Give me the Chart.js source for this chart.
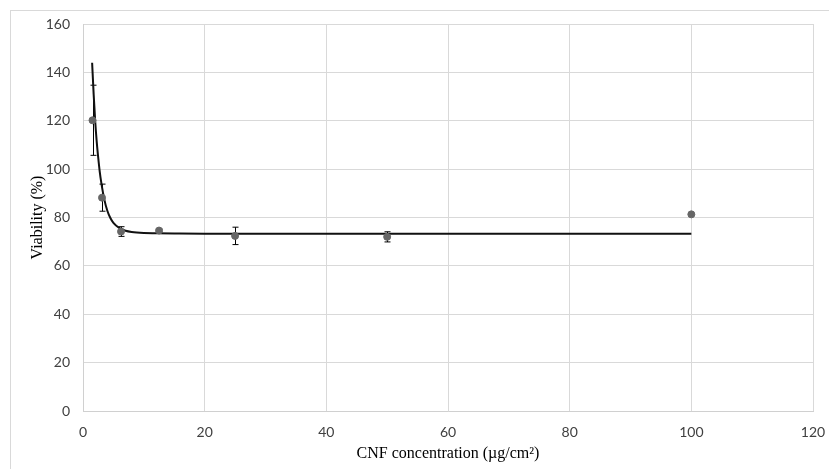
<!DOCTYPE html>
<html>
<head>
<meta charset="utf-8">
<script src="https://cdn.jsdelivr.net/npm/chart.js@4"></script>
<style>
  html, body { margin: 0; padding: 0; background: #fff; }
  #frame { position: absolute; left: 10px; top: 10px; width: 830px; height: 470px;
           border-top: 1px solid #d9d9d9; border-left: 1px solid #d9d9d9; }
  #wrap { position: absolute; left: 0; top: 0; width: 829px; height: 469px; }
</style>
</head>
<body>
<div id="frame"></div>
<div id="wrap"><canvas id="viabilityChart"></canvas></div>
<script>
// measured points (concentration, mean viability, error)
const concentrations = [1.5625, 3.125, 6.25, 12.5, 25, 50, 100];
const viability = [120.2, 88.2, 74.2, 74.6, 72.4, 72.0, 81.3];
const viabilityErr = [14.5, 5.6, 2.0, 0.6, 3.6, 2.1, 0];

// fitted curve
const fitX = [1.5, 1.75, 2, 2.25, 2.5, 2.75, 3, 3.5, 4, 4.5, 5, 6, 7, 8, 10, 12, 15, 20, 30, 50, 80, 100];
const fitY = [144, 131, 120, 111.5, 104.8, 99, 94.5, 87.5, 82.8, 79.8, 77.8, 75.6, 74.5, 74.0, 73.6, 73.5, 73.4, 73.3, 73.3, 73.3, 73.3, 73.3];

const xTicks = [0, 20, 40, 60, 80, 100, 120];
const yTicks = [0, 20, 40, 60, 80, 100, 120, 140, 160];

const errorBars = {
    id: 'errorBars',
    beforeDatasetsDraw(chart) {
        const ctx = chart.ctx;
        const xs = chart.scales.x, ys = chart.scales.y;
        ctx.save();
        ctx.strokeStyle = '#000';
        ctx.lineWidth = 1;
        concentrations.forEach(function (c, i) {
            const e = viabilityErr[i];
            if (!e) return;
            const px = Math.round(xs.getPixelForValue(c)) + 0.5;
            const top = ys.getPixelForValue(viability[i] + e);
            const bot = ys.getPixelForValue(viability[i] - e);
            ctx.beginPath();
            ctx.moveTo(px, top); ctx.lineTo(px, bot);
            ctx.moveTo(px - 3, top); ctx.lineTo(px + 3, top);
            ctx.moveTo(px - 3, bot); ctx.lineTo(px + 3, bot);
            ctx.stroke();
        });
        ctx.restore();
    }
};

const tickFont = { family: 'Lato', size: 14 };
const titleFont = { family: 'Liberation Serif', size: 16 };

new Chart(document.getElementById('viabilityChart'), {
    type: 'scatter',
    data: {
        datasets: [
            {
                label: 'Viability',
                data: concentrations.map((c, i) => ({ x: c, y: viability[i] })),
                backgroundColor: '#666666',
                borderColor: '#666666',
                pointRadius: 3.5,
                showLine: false
            },
            {
                label: 'Fit',
                data: fitX.map((x, i) => ({ x: x, y: fitY[i] })),
                showLine: true,
                borderColor: '#111111',
                borderWidth: 2,
                pointRadius: 0,
                cubicInterpolationMode: 'monotone'
            }
        ]
    },
    options: {
        responsive: true,
        maintainAspectRatio: false,
        animation: false,
        events: [],
        layout: { padding: { top: 24, right: 16, left: 0, bottom: 0 } },
        plugins: { legend: { display: false }, tooltip: { enabled: false } },
        scales: {
            x: {
                type: 'linear',
                min: 0, max: 120,
                afterBuildTicks: (s) => { s.ticks = xTicks.map(v => ({ value: v })); },
                afterFit: (s) => { s.height = 58; s.paddingLeft = 0; s.paddingRight = 0; },
                ticks: { font: tickFont, color: '#404040', padding: 13 },
                grid: { color: '#d9d9d9', drawTicks: false },
                border: { color: '#d0d0d0' },
                title: { display: true, text: 'CNF concentration (µg/cm²)', font: titleFont, color: '#000', padding: { top: 6, bottom: 6 } }
            },
            y: {
                min: 0, max: 160,
                afterBuildTicks: (s) => { s.ticks = yTicks.map(v => ({ value: v })); },
                afterFit: (s) => { s.width = 83; s.paddingTop = 0; s.paddingBottom = 0; },
                ticks: { font: tickFont, color: '#404040', padding: 13 },
                grid: { color: '#d9d9d9', drawTicks: false },
                border: { color: '#d0d0d0' },
                title: { display: true, text: 'Viability (%)', font: titleFont, color: '#000', padding: { top: 28, bottom: 4 } }
            }
        }
    },
    plugins: [errorBars]
});
</script>
</body>
</html>
